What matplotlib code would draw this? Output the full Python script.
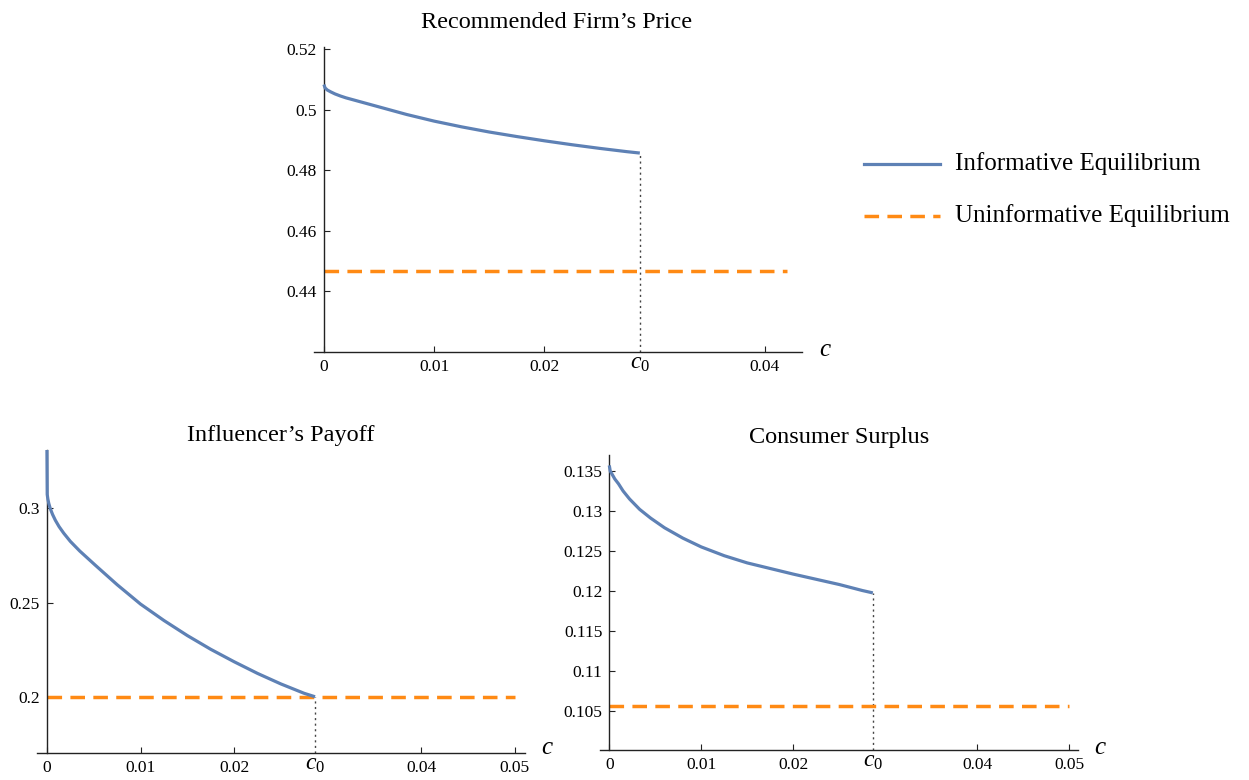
import matplotlib
matplotlib.use("Agg")
import matplotlib.pyplot as plt

# ---------------- data ----------------
c0 = 0.02865

price_c = [0, 0.0001, 0.0003, 0.0006, 0.001, 0.0015, 0.002, 0.003, 0.004, 0.005, 0.0075,
           0.01, 0.0125, 0.015, 0.0175, 0.02, 0.0225, 0.025, 0.0275, c0]
price_inf = [0.5083, 0.5072, 0.5065, 0.5059, 0.5052, 0.5045, 0.5039, 0.5029, 0.5019, 0.5009,
             0.4984, 0.4962, 0.4943, 0.4926, 0.4911, 0.4897, 0.4884, 0.4872, 0.4861, 0.48565]
price_uninf = 0.4467
price_xmax = 0.042

payoff_c = [0, 0.00003, 0.0001, 0.0002, 0.00035, 0.0006, 0.0009, 0.0013, 0.0018, 0.0025,
            0.0035, 0.0052, 0.0075, 0.01, 0.0125, 0.015, 0.0175, 0.02, 0.0225, 0.025,
            0.0275, c0]
payoff_inf = [0.331, 0.3074, 0.3049, 0.3026, 0.300, 0.2968, 0.2937, 0.2903, 0.2868, 0.2825,
              0.2774, 0.2697, 0.2595, 0.2492, 0.2405, 0.2325, 0.2252, 0.2186, 0.2124, 0.2068,
              0.2018, 0.200]
payoff_uninf = 0.200

cs_c = [0, 0.0001, 0.0003, 0.0006, 0.001, 0.0015, 0.0022, 0.0033, 0.0045, 0.006, 0.008,
        0.01, 0.0125, 0.015, 0.0175, 0.02, 0.0225, 0.025, 0.0275, c0]
cs_inf = [0.1357, 0.1350, 0.1346, 0.1340, 0.1334, 0.1325, 0.1315, 0.1302, 0.1291, 0.1279,
          0.1266, 0.1255, 0.1244, 0.1235, 0.1228, 0.1221, 0.12145, 0.1208, 0.12005, 0.11975]
cs_uninf = 0.10557
bottom_xmax = 0.05

xticks_top = [0, 0.01, 0.02, c0, 0.04]
xlabels_top = ["0", "0.01", "0.02", r"$c_0$", "0.04"]
xticks_bot = [0, 0.01, 0.02, c0, 0.04, 0.05]
xlabels_bot = ["0", "0.01", "0.02", r"$c_0$", "0.04", "0.05"]

yticks_price = [0.44, 0.46, 0.48, 0.5, 0.52]
ylabels_price = ["0.44", "0.46", "0.48", "0.5", "0.52"]
yticks_payoff = [0.2, 0.25, 0.3]
ylabels_payoff = ["0.2", "0.25", "0.3"]
yticks_cs = [0.105, 0.11, 0.115, 0.12, 0.125, 0.13, 0.135]
ylabels_cs = ["0.105", "0.11", "0.115", "0.12", "0.125", "0.13", "0.135"]

titles = ["Recommended Firm\u2019s Price", "Influencer\u2019s Payoff", "Consumer Surplus"]
legend_labels = ["Informative Equilibrium", "Uninformative Equilibrium"]

# ---------------- style ----------------
FONT = "Liberation Serif"
plt.rcParams["font.family"] = [FONT, "DejaVu Serif"]
plt.rcParams["mathtext.fontset"] = "custom"
plt.rcParams["mathtext.rm"] = FONT
plt.rcParams["mathtext.it"] = FONT + ":italic"

BLUE = "#5E81B5"
ORANGE = "#FF8A14"
DOT = "#444444"
W, H = 1249, 780

fig = plt.figure(figsize=(W / 100, H / 100), dpi=100)


def add_ax(l, r, t, b):
    return fig.add_axes([l / W, 1 - b / H, (r - l) / W, (b - t) / H])


def style(ax, xlim, ylim, xt, xl, yt, yl):
    ax.set_xlim(*xlim)
    ax.set_ylim(*ylim)
    for s in ["top", "right"]:
        ax.spines[s].set_visible(False)
    ax.spines["left"].set_position(("data", 0))
    for s in ["left", "bottom"]:
        ax.spines[s].set_color("#222222")
        ax.spines[s].set_linewidth(1.0)
    ax.set_xticks(xt)
    ax.set_xticklabels(xl)
    ax.set_yticks(yt)
    ax.set_yticklabels(yl)
    ax.tick_params(direction="in", length=4, width=0.8, color="#222222",
                   labelsize=12.5, pad=5)
    for tk, v in zip(ax.xaxis.get_major_ticks(), xt):
        if v == c0:
            tk.tick1line.set_visible(False)
            tk.label1.set_fontsize(17)
            tk.set_pad(1)
    ax.patch.set_visible(False)


def draw(ax, cx, cy, uninf, xmax):
    ax.plot(cx, cy, color=BLUE, lw=2.3, solid_capstyle="butt",
            solid_joinstyle="round", zorder=3)
    ax.plot([0, xmax], [uninf, uninf], color=ORANGE, lw=2.5, dashes=(4.2, 2.4), zorder=2)
    ax.vlines(c0, ax.get_ylim()[0], cy[-1], colors=DOT, lw=1.0,
              linestyles=(0, (1.5, 2.5)), zorder=1)


# Top panel
ax1 = add_ax(314, 801.7, 46.7, 351.7)
style(ax1, (-0.0009, 0.04333), (0.42, 0.5208), xticks_top, xlabels_top,
      yticks_price, ylabels_price)
draw(ax1, price_c, price_inf, price_uninf, price_xmax)

# Bottom-left
ax2 = add_ax(37.2, 524.5, 450, 752.7)
style(ax2, (-0.00104, 0.05103), (0.1703, 0.331), xticks_bot, xlabels_bot,
      yticks_payoff, ylabels_payoff)
draw(ax2, payoff_c, payoff_inf, payoff_uninf, bottom_xmax)

# Bottom-right
ax3 = add_ax(600, 1078.3, 455, 750)
style(ax3, (-0.00101, 0.05098), (0.1001, 0.137), xticks_bot, xlabels_bot,
      yticks_cs, ylabels_cs)
draw(ax3, cs_c, cs_inf, cs_uninf, bottom_xmax)

# Titles
for (x, y), t in zip([(557, 22), (281, 436), (839, 438)], titles):
    fig.text(x / W, 1 - y / H, t, ha="center", va="center", fontsize=17.5)

# axis labels "c"
for (x, y) in [(825, 350), (547, 748), (1100, 748)]:
    fig.text(x / W, 1 - y / H, r"$c$", ha="center", va="center", fontsize=18)

# Legend (manual)
lx0, lx1, tx = 864 / W, 940 / W, 955 / W
for yy, lab, kind in [(164, legend_labels[0], "solid"), (216, legend_labels[1], "dash")]:
    yf = 1 - yy / H
    if kind == "solid":
        fig.add_artist(plt.Line2D([lx0, lx1], [yf, yf], color=BLUE, lw=2.3,
                                  transform=fig.transFigure))
    else:
        fig.add_artist(plt.Line2D([lx0, lx1], [yf, yf], color=ORANGE, lw=2.5,
                                  dashes=(4.2, 2.4), transform=fig.transFigure))
    fig.text(tx, yf, lab, ha="left", va="center", fontsize=18)

fig.savefig("out.png", dpi=100)
